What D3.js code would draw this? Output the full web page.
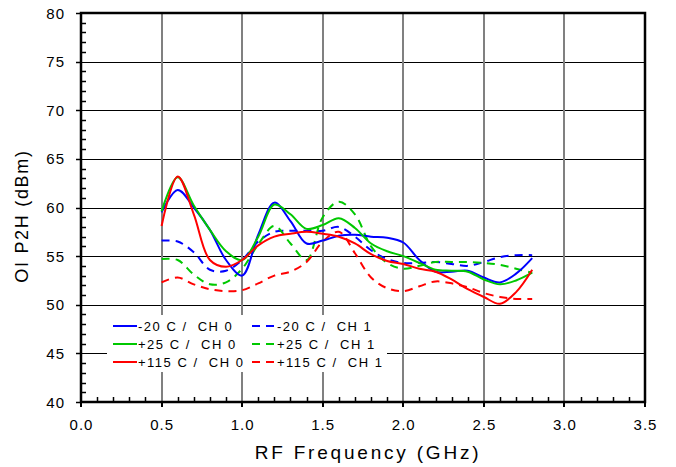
<!DOCTYPE html>
<html><head><meta charset="utf-8">
<script src="https://cdn.jsdelivr.net/npm/d3@7"></script>
<style>body{margin:0;background:#fff}svg{display:block}text{font-family:"Liberation Sans",Arial,sans-serif;fill:#000}</style>
</head><body><svg id="c" width="676" height="467"></svg>
<script>
const freq = [0.5,0.6,0.7,0.8,0.9,1.0,1.1,1.2,1.3,1.4,1.5,1.6,1.7,1.8,1.9,2.0,2.1,2.2,2.3,2.4,2.5,2.6,2.7,2.8];
const m20ch0 = [59.5,61.8,60.0,57.7,54.6,53.0,57.2,60.5,58.6,56.3,56.6,57.1,57.2,57.0,56.9,56.4,54.6,53.4,53.4,53.5,52.8,52.3,53.2,54.8];
const p25ch0 = [59.6,63.1,60.2,57.7,55.5,54.6,57.0,60.3,59.3,57.8,58.2,58.9,57.9,56.3,55.5,55.0,54.3,53.6,53.5,53.4,52.6,52.1,52.5,53.3];
const p115ch0 = [58.1,63.2,59.3,54.6,53.9,54.6,56.1,57.0,57.3,57.5,57.3,57.0,56.3,55.2,54.5,54.2,53.7,53.4,52.6,51.6,50.8,50.1,51.3,53.6];
const m20ch1 = [56.6,56.5,55.4,53.6,53.5,54.6,56.5,57.5,57.6,57.6,57.6,58.0,57.0,55.6,54.7,54.3,54.3,54.4,54.2,54.0,54.4,54.9,55.1,55.1];
const p25ch1 = [54.7,54.6,53.1,52.1,52.3,53.7,56.2,58.1,56.3,54.6,59.0,60.6,59.3,56.0,54.3,53.7,54.0,54.4,54.4,54.4,54.3,54.1,53.7,53.3];
const p115ch1 = [52.3,52.8,52.1,51.6,51.4,51.5,52.2,53.0,53.4,54.4,56.5,57.5,55.3,52.8,51.7,51.4,51.9,52.4,52.2,51.8,51.2,50.8,50.6,50.6];
const seriesNames = ["-20 C /  CH 0","+25 C /  CH 0","+115 C /  CH 0","-20 C /  CH 1","+25 C /  CH 1","+115 C /  CH 1"];
const xTicks = [0.0,0.5,1.0,1.5,2.0,2.5,3.0,3.5];
const yTicks = [40,45,50,55,60,65,70,75,80];
const xTitle = "RF Frequency (GHz)";
const yTitle = "OI P2H (dBm)";

const series = [
  {name:seriesNames[0], v:m20ch0, c:"#0000ff", d:null},
  {name:seriesNames[1], v:p25ch0, c:"#00c800", d:null},
  {name:seriesNames[2], v:p115ch0, c:"#ff0000", d:null},
  {name:seriesNames[3], v:m20ch1, c:"#0000ff", d:"8,6"},
  {name:seriesNames[4], v:p25ch1, c:"#00c800", d:"8,6"},
  {name:seriesNames[5], v:p115ch1, c:"#ff0000", d:"8,6"}
];

const svg = d3.select("#c");
const L=81,R=645,T=13,B=402;
const x = d3.scaleLinear().domain([0,3.5]).range([L,R]);
const y = d3.scaleLinear().domain([40,80]).range([B,T]);

// grid
svg.append("g").selectAll("line").data(yTicks.slice(1,-1)).join("line")
  .attr("x1",L).attr("x2",R).attr("y1",d=>Math.round(y(d))+0.5).attr("y2",d=>Math.round(y(d))+0.5)
  .attr("stroke","#000").attr("stroke-width",1);
svg.append("g").selectAll("line").data(xTicks.slice(1,-1)).join("line")
  .attr("y1",T).attr("y2",B).attr("x1",d=>Math.round(x(d))).attr("x2",d=>Math.round(x(d)))
  .attr("stroke","#808080").attr("stroke-width",2);

// minor ticks
const minorY = d3.range(40,81,1).filter(v=>v%5!==0);
svg.append("g").selectAll("line").data(minorY).join("line")
  .attr("x1",L).attr("x2",L+5).attr("y1",d=>Math.round(y(d))+0.5).attr("y2",d=>Math.round(y(d))+0.5)
  .attr("stroke","#000").attr("stroke-width",1.5);
const minorX = d3.range(1,35).map(i=>i/10).filter(v=>Math.abs(v*2-Math.round(v*2))>1e-6);
svg.append("g").selectAll("line").data(minorX).join("line")
  .attr("y1",B).attr("y2",B-5).attr("x1",d=>Math.round(x(d))+0.5).attr("x2",d=>Math.round(x(d))+0.5)
  .attr("stroke","#000").attr("stroke-width",1.5);
// major outer ticks
svg.append("g").selectAll("line").data(yTicks).join("line")
  .attr("x1",L-5).attr("x2",L).attr("y1",d=>Math.round(y(d))+0.5).attr("y2",d=>Math.round(y(d))+0.5)
  .attr("stroke","#000").attr("stroke-width",1.5);
svg.append("g").selectAll("line").data(xTicks).join("line")
  .attr("y1",B).attr("y2",B+5).attr("x1",d=>Math.round(x(d))).attr("x2",d=>Math.round(x(d)))
  .attr("stroke","#000").attr("stroke-width",2);

// legend background
svg.append("rect").attr("x",107).attr("y",315).attr("width",280).attr("height",57).attr("fill","#fff");

// curves
const line = d3.line().x((d,i)=>x(freq[i])).y(d=>y(d)).curve(d3.curveCatmullRom.alpha(0.5));
const order=[3,4,5,0,1,2];
order.forEach(k=>{
  const s=series[k];
  svg.append("path").attr("d",line(s.v)).attr("fill","none").attr("stroke",s.c)
    .attr("stroke-width",2).attr("stroke-dasharray",s.d);
});

// frame
svg.append("rect").attr("x",L).attr("y",T).attr("width",R-L).attr("height",B-T)
  .attr("fill","none").attr("stroke","#000").attr("stroke-width",2.5);

// tick labels
svg.append("g").selectAll("text").data(xTicks).join("text")
  .attr("x",d=>x(d)+0.5).attr("y",430).attr("text-anchor","middle")
  .style("font-size","15px").style("letter-spacing","1px").text(d=>d.toFixed(1));
svg.append("g").selectAll("text").data(yTicks).join("text")
  .attr("x",65).attr("y",d=>y(d)+5.5).attr("text-anchor","end")
  .style("font-size","15px").style("letter-spacing","1px").text(d=>d);

// titles
svg.append("text").attr("x",(L+R)/2+5).attr("y",459).attr("text-anchor","middle")
  .style("font-size","19px").style("letter-spacing","2.8px").text(xTitle);
svg.append("text").attr("transform","translate(28,216) rotate(-90)").attr("text-anchor","middle")
  .style("font-size","18px").style("letter-spacing","1.7px").text(yTitle);

// legend
series.forEach((s,k)=>{
  const col=Math.floor(k/3), row=k%3;
  const lx = col===0?113:252, ly = 326+row*18;
  svg.append("line").attr("x1",lx).attr("x2",lx+24).attr("y1",ly).attr("y2",ly)
    .attr("stroke",s.c).attr("stroke-width",2).attr("stroke-dasharray",s.d?"8,6":null);
  svg.append("text").attr("x",lx+25).attr("y",ly+5).style("font-size","13px")
    .style("letter-spacing","1.5px").style("white-space","pre").attr("xml:space","preserve").text(s.name);
});
</script></body></html>
